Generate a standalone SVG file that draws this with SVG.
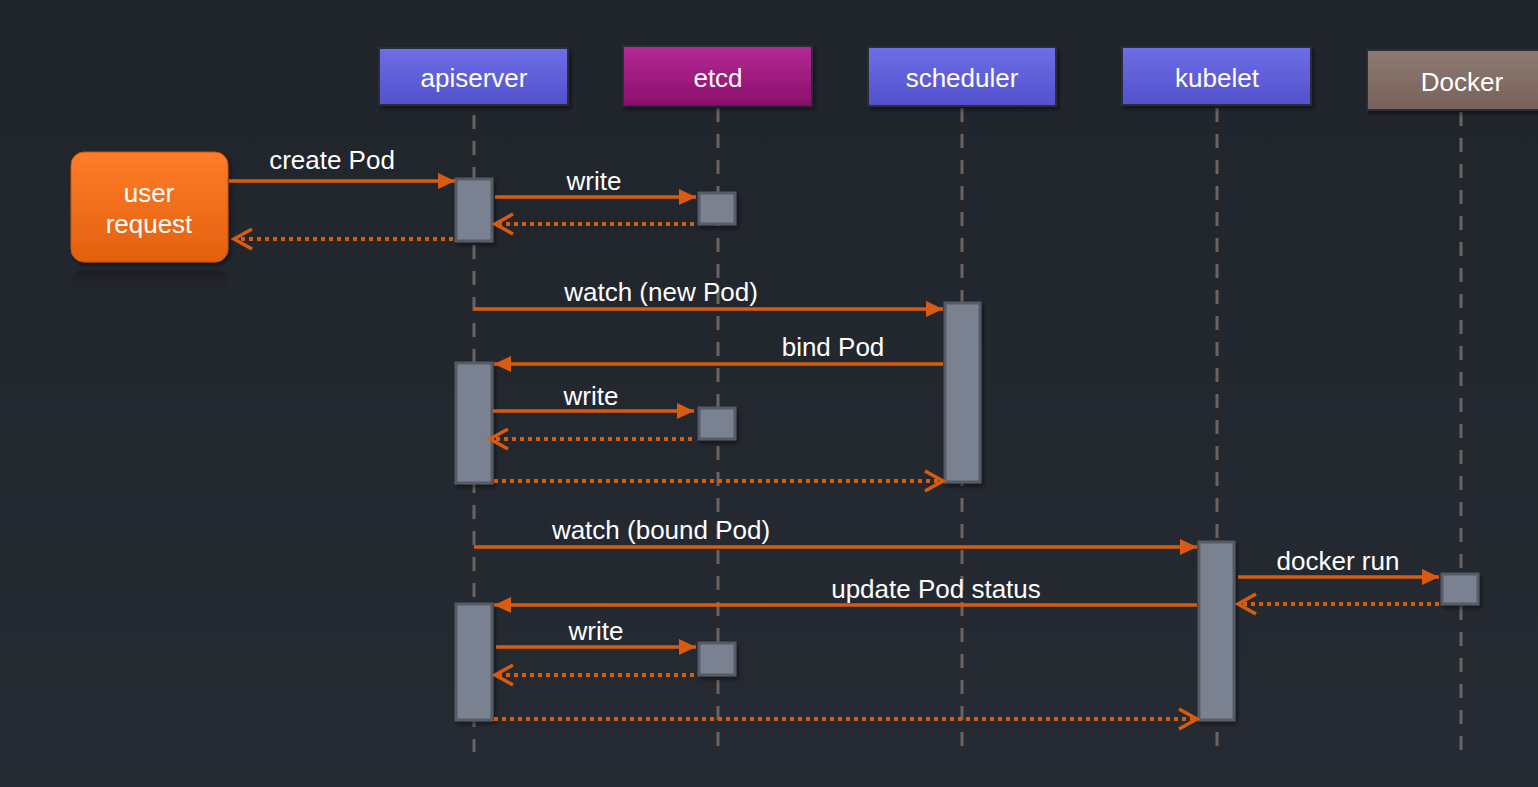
<svg xmlns="http://www.w3.org/2000/svg" width="1538" height="787" viewBox="0 0 1538 787">
<defs>
<linearGradient id="bg" x1="0" y1="0" x2="0" y2="1"><stop offset="0" stop-color="#20242b"/><stop offset="1" stop-color="#262b33"/></linearGradient>
<linearGradient id="gBlue" x1="0" y1="0" x2="0" y2="1"><stop offset="0" stop-color="#6e6ee6"/><stop offset="1" stop-color="#5250cc"/></linearGradient>
<linearGradient id="gMag" x1="0" y1="0" x2="0" y2="1"><stop offset="0" stop-color="#b52a94"/><stop offset="1" stop-color="#8a0f6c"/></linearGradient>
<linearGradient id="gBrown" x1="0" y1="0" x2="0" y2="1"><stop offset="0" stop-color="#8e7a72"/><stop offset="1" stop-color="#766259"/></linearGradient>
<linearGradient id="gOrange" x1="0" y1="0" x2="0" y2="1"><stop offset="0" stop-color="#ff7d2a"/><stop offset="1" stop-color="#e2600c"/></linearGradient>
<linearGradient id="gRefl" x1="0" y1="0" x2="0" y2="1"><stop offset="0" stop-color="#1b1e24" stop-opacity="0.9"/><stop offset="1" stop-color="#22262d" stop-opacity="0"/></linearGradient>
<filter id="sh" x="-10%" y="-10%" width="130%" height="140%"><feDropShadow dx="2" dy="3" stdDeviation="2" flood-color="#000" flood-opacity="0.45"/></filter>
<marker id="fa" markerUnits="userSpaceOnUse" markerWidth="20" markerHeight="18" refX="17" refY="8" orient="auto"><path d="M0,0 L17,8 L0,16 z" fill="#d95b0f"/></marker>
<marker id="oa" markerUnits="userSpaceOnUse" markerWidth="24" markerHeight="26" refX="20" refY="12" orient="auto"><path d="M2,2 L20,12 L2,22" fill="none" stroke="#d95b0f" stroke-width="3.5"/></marker>
<style>
.hdr{stroke:#2a2d3a;stroke-width:2;filter:url(#sh)}
.ht{font-family:"Liberation Sans",Arial,sans-serif;font-size:26px;fill:#ffffff;text-anchor:middle}
.lbl{font-family:"Liberation Sans",Arial,sans-serif;font-size:26px;fill:#ffffff;text-anchor:middle}
.life{stroke:#6e625e;stroke-width:3;stroke-dasharray:14 12;fill:none}
.act{fill:#7a8291;stroke:#555b66;stroke-width:3;filter:url(#sh)}
.msg{stroke:#d95b0f;stroke-width:3.5;fill:none;marker-end:url(#fa)}
.ret{stroke:#d95b0f;stroke-width:4;stroke-dasharray:4 4;fill:none;marker-end:url(#oa)}
</style>
</defs>
<rect width="1538" height="787" fill="url(#bg)"/>

<g id="lifelines">
<line class="life" x1="474" y1="115" x2="474" y2="752"/>
<line class="life" x1="718" y1="108" x2="718" y2="752"/>
<line class="life" x1="962" y1="108" x2="962" y2="752"/>
<line class="life" x1="1217" y1="108" x2="1217" y2="752"/>
<line class="life" x1="1461" y1="112" x2="1461" y2="752"/>
</g>

<g id="apiserver"><rect class="hdr" x="379" y="48" width="189" height="57" fill="url(#gBlue)"/><text class="ht" x="474" y="87">apiserver</text></g>
<g id="etcd"><rect class="hdr" x="623" y="46" width="189" height="60" fill="url(#gMag)"/><text class="ht" x="718" y="87">etcd</text></g>
<g id="scheduler"><rect class="hdr" x="868" y="47" width="188" height="59" fill="url(#gBlue)"/><text class="ht" x="962" y="87">scheduler</text></g>
<g id="kubelet"><rect class="hdr" x="1122" y="47" width="189" height="58" fill="url(#gBlue)"/><text class="ht" x="1217" y="87">kubelet</text></g>
<g id="docker"><rect class="hdr" x="1367" y="50" width="180" height="60" fill="url(#gBrown)"/><text class="ht" x="1462" y="91">Docker</text></g>

<g id="user-request">
<rect x="71" y="270" width="157" height="30" rx="12" fill="url(#gRefl)"/>
<rect x="71" y="152" width="157" height="110" rx="13" fill="url(#gOrange)" stroke="#c75208" stroke-width="1" filter="url(#sh)"/>
<text class="ht" x="149" y="202">user</text>
<text class="ht" x="149" y="233">request</text>
</g>

<g id="activations">
<rect class="act" x="456" y="179" width="36" height="62"/>
<rect class="act" x="699" y="193" width="36" height="31"/>
<rect class="act" x="945" y="303" width="35" height="179"/>
<rect class="act" x="456" y="363" width="36" height="120"/>
<rect class="act" x="699" y="408" width="36" height="31"/>
<rect class="act" x="1199" y="542" width="35" height="178"/>
<rect class="act" x="1442" y="574" width="36" height="30"/>
<rect class="act" x="456" y="604" width="36" height="116"/>
<rect class="act" x="699" y="643" width="36" height="32"/>
</g>

<g id="connectors">
<line class="msg" x1="229" y1="181" x2="455" y2="181"/>
<line class="ret" x1="453" y1="239" x2="234" y2="239"/>
<line class="msg" x1="495" y1="197" x2="696" y2="197"/>
<line class="ret" x1="694" y1="224" x2="495" y2="224"/>
<line class="msg" x1="474" y1="309" x2="943" y2="309"/>
<line class="msg" x1="943" y1="364" x2="494" y2="364"/>
<line class="msg" x1="493" y1="411" x2="694" y2="411"/>
<line class="ret" x1="692" y1="439" x2="490" y2="439"/>
<line class="ret" x1="494" y1="481" x2="943" y2="481"/>
<line class="msg" x1="474" y1="547" x2="1197" y2="547"/>
<line class="msg" x1="1238" y1="577" x2="1439" y2="577"/>
<line class="ret" x1="1439" y1="604" x2="1238" y2="604"/>
<line class="msg" x1="1197" y1="605" x2="494" y2="605"/>
<line class="msg" x1="496" y1="647" x2="696" y2="647"/>
<line class="ret" x1="694" y1="675" x2="495" y2="675"/>
<line class="ret" x1="494" y1="719" x2="1197" y2="719"/>
</g>

<g id="labels">
<text class="lbl" x="332" y="169">create Pod</text>
<text class="lbl" x="594" y="190">write</text>
<text class="lbl" x="661" y="301">watch (new Pod)</text>
<text class="lbl" x="833" y="356">bind Pod</text>
<text class="lbl" x="591" y="405">write</text>
<text class="lbl" x="661" y="539">watch (bound Pod)</text>
<text class="lbl" x="1338" y="570">docker run</text>
<text class="lbl" x="936" y="598">update Pod status</text>
<text class="lbl" x="596" y="640">write</text>
</g>
</svg>
